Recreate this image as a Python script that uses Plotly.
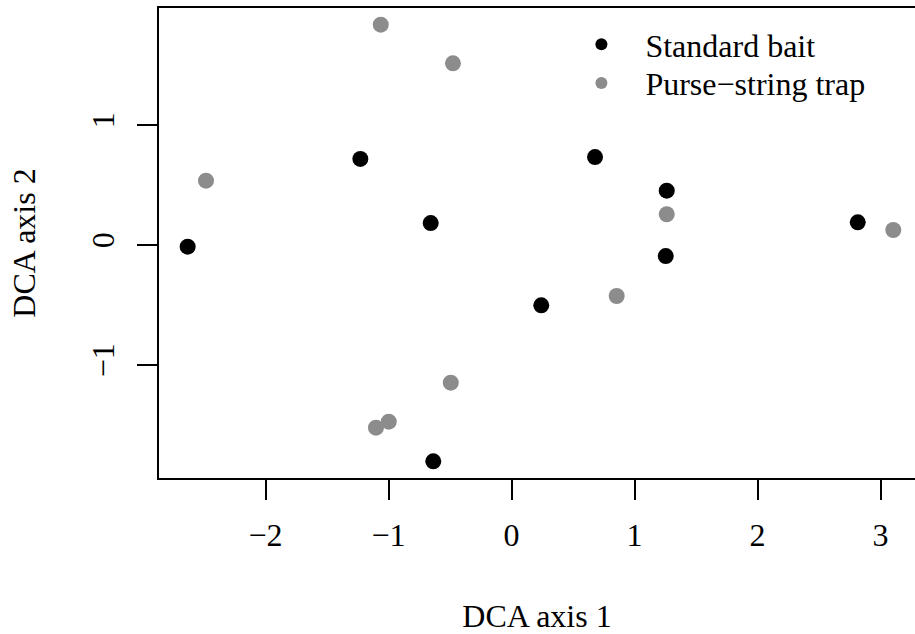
import plotly.graph_objects as go

# Data
std_x = [-2.633, -1.229, -0.657, 0.679, 1.262, 1.254, 2.815, 0.242, -0.636]
std_y = [-0.014, 0.717, 0.183, 0.733, 0.453, -0.092, 0.189, -0.503, -1.803]
purse_x = [-1.063, -0.476, -2.484, 1.262, 3.104, 0.855, -0.494, -0.998, -1.102]
purse_y = [1.836, 1.514, 0.536, 0.256, 0.125, -0.425, -1.147, -1.472, -1.522]

series_names = ["Standard bait", "Purse\u2212string trap"]
x_ticks = [-2, -1, 0, 1, 2, 3]
x_ticktext = ["\u22122", "\u22121", "0", "1", "2", "3"]
y_ticks = [-1, 0, 1]
y_ticktext = ["\u22121", "0", "1"]

FONT = "Liberation Serif, Times New Roman, serif"

fig = go.Figure()
fig.add_trace(go.Scatter(x=std_x, y=std_y, mode="markers", name=series_names[0],
                         legend="legend",
                         marker=dict(color="black", size=16, line=dict(width=0))))
fig.add_trace(go.Scatter(x=purse_x, y=purse_y, mode="markers", name=series_names[1],
                         legend="legend2",
                         marker=dict(color="#8c8c8c", size=16, line=dict(width=0))))

legend_common = dict(xanchor="left", yanchor="top", bgcolor="rgba(0,0,0,0)",
                     itemsizing="constant", itemwidth=78,
                     font=dict(family=FONT, size=32, color="black"))

fig.update_layout(
    width=915, height=634,
    margin=dict(l=159, r=0, t=8, b=156),
    paper_bgcolor="white", plot_bgcolor="white",
    font=dict(family=FONT, size=32, color="black"),
    showlegend=True,
    legend=dict(x=0.527, y=0.9809, **legend_common),
    legend2=dict(x=0.527, y=0.8987, **legend_common),
    xaxis=dict(range=[-2.866, 3.2805], tickvals=x_ticks, ticktext=x_ticktext,
               showline=True, linecolor="black", linewidth=2, mirror=True,
               ticks="outside", ticklen=20, tickwidth=2, tickcolor="black",
               showgrid=False, zeroline=False,
               tickfont=dict(family=FONT, size=32),
               ticklabelstandoff=8,
               title=dict(text="DCA axis 1", font=dict(family=FONT, size=32), standoff=52),
               automargin=False),
    yaxis=dict(range=[-1.9417, 1.975], tickvals=y_ticks, ticktext=y_ticktext,
               showline=True, linecolor="black", linewidth=2, mirror=False,
               ticks="outside", ticklen=20, tickwidth=2, tickcolor="black",
               showgrid=False, zeroline=False, tickangle=-90,
               tickfont=dict(family=FONT, size=32),
               ticklabelstandoff=10,
               title=dict(text="DCA axis 2", font=dict(family=FONT, size=32), standoff=40),
               automargin=False),
)

fig.write_html("out.html", config={"displayModeBar": False},
               post_script="document.body.style.margin='0';")
